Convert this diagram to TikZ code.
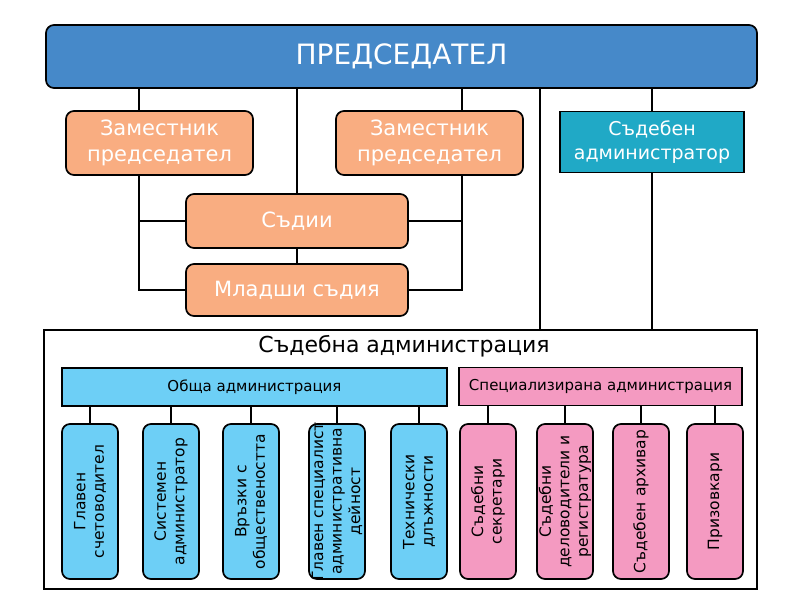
\documentclass[tikz,border=0pt]{standalone}
\usepackage{fontspec}
\setmainfont{DejaVu Sans}
\definecolor{predblue}{HTML}{4689C9}
\definecolor{salmon}{HTML}{F9AD81}
\definecolor{tealbox}{HTML}{20A9C6}
\definecolor{lblue}{HTML}{6DCFF6}
\definecolor{pinkbox}{HTML}{F49AC1}
\begin{document}
\begin{tikzpicture}[x=1pt,y=-1pt,
  conn/.style={draw=black, line width=1.8pt},
  box/.style={draw=black, line width=1.7pt, inner sep=0pt, align=center},
  rbox/.style={box, rounded corners=8pt},
  topfont/.style={font=\fontsize{21}{26}\selectfont},
  chbox/.style={rbox, minimum width=56pt, minimum height=155pt},
  vlab/.style={rotate=90, align=center, inner sep=0pt, font=\fontsize{15.5}{18.5}\selectfont},
  hdr/.style={box, minimum height=38pt, font=\fontsize{15}{17}\selectfont}
]
\fill[white] (0,0) rectangle (800,600);
\useasboundingbox (0,0) rectangle (800,600);

% top level
\node[rbox, fill=predblue, text=white, minimum width=711pt, minimum height=63pt,
      font=\fontsize{28}{33}\selectfont] (P) at (401.5,56.5) {ПРЕДСЕДАТЕЛ};
\node[rbox, fill=salmon, text=white, topfont, minimum width=187pt, minimum height=64pt] (Z1) at (159.5,143) {Заместник\\председател};
\node[rbox, fill=salmon, text=white, topfont, minimum width=187pt, minimum height=64pt] (Z2) at (429.5,143) {Заместник\\председател};
\node[box, fill=tealbox, text=white, minimum width=184pt, minimum height=61pt,
      font=\fontsize{19}{24}\selectfont] (SA) at (652,142) {Съдебен\\администратор};
\node[rbox, fill=salmon, text=white, topfont, minimum width=222pt, minimum height=54pt] (S) at (297,221) {Съдии};
\node[rbox, fill=salmon, text=white, topfont, minimum width=222pt, minimum height=52pt] (M) at (297,290) {Младши съдия};

% administration frame
\node[draw=black, line width=1.3pt, inner sep=0pt, minimum width=713pt, minimum height=259pt] (A) at (400.5,459.5) {};
\node[anchor=base, inner sep=0pt, font=\fontsize{22}{26}\selectfont] (At) at (404,352) {Съдебна администрация};

\node[hdr, fill=lblue, minimum width=385pt] (O) at (254.5,387) {Обща администрация};
\node[hdr, fill=pinkbox, minimum width=283pt] (Sp) at (600.5,386.5) {Специализирана администрация};

% children
\node[chbox, fill=lblue] (c1) at (90,501.5) {};
\node[chbox, fill=lblue] (c2) at (171,501.5) {};
\node[chbox, fill=lblue] (c3) at (251,501.5) {};
\node[chbox, fill=lblue] (c4) at (337,501.5) {};
\node[chbox, fill=lblue] (c5) at (419,501.5) {};
\node[chbox, fill=pinkbox] (c6) at (488,501.5) {};
\node[chbox, fill=pinkbox] (c7) at (565,501.5) {};
\node[chbox, fill=pinkbox] (c8) at (641,501.5) {};
\node[chbox, fill=pinkbox] (c9) at (715,501.5) {};

\node[vlab] (t1) at (c1) {Главен\\счетоводител};
\node[vlab] (t2) at (c2) {Системен\\администратор};
\node[vlab] (t3) at (c3) {Връзки с\\обществеността};
\node[vlab] (t4) at (c4) {Главен специалист\\административна\\дейност};
\node[vlab] (t5) at (c5) {Технически\\длъжности};
\node[vlab] (t6) at (c6) {Съдебни\\секретари};
\node[vlab] (t7) at (c7) {Съдебни\\деловодители и\\регистратура};
\node[vlab] (t8) at (c8) {Съдебен архивар};
\node[vlab] (t9) at (c9) {Призовкари};

% connectors
\coordinate (x1) at (139,0);
\coordinate (x2) at (462,0);
\coordinate (x3) at (540,0);
\draw[conn] (P.south -| x1) -- (Z1.north -| x1);
\draw[conn] (Z1.south -| x1) |- (S.west);
\draw[conn] (Z1.south -| x1) |- (M.west);
\draw[conn] (P.south -| S.north) -- (S.north);
\draw[conn] (S.south) -- (M.north);
\draw[conn] (P.south -| x2) -- (Z2.north -| x2);
\draw[conn] (Z2.south -| x2) |- (S.east);
\draw[conn] (Z2.south -| x2) |- (M.east);
\draw[conn] (P.south -| x3) -- (A.north -| x3);
\draw[conn] (P.south -| SA.north) -- (SA.north);
\draw[conn] (SA.south) -- (SA.south |- A.north);

\foreach \c in {c1,c2,c3,c4,c5}{\draw[conn] (\c.north) -- (\c.north |- O.south);}
\foreach \c in {c6,c7,c8,c9}{\draw[conn] (\c.north) -- (\c.north |- Sp.south);}
\end{tikzpicture}
\end{document}
